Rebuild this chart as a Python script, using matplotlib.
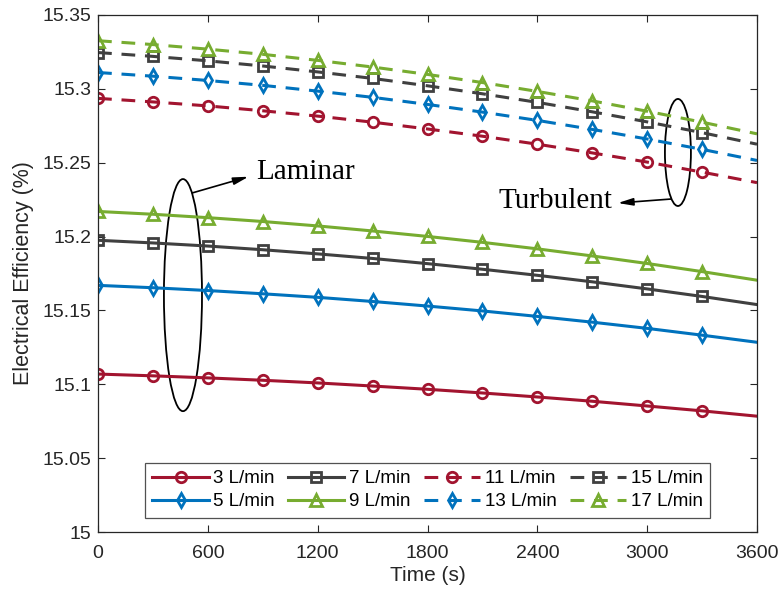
import matplotlib
matplotlib.use("Agg")
import matplotlib.pyplot as plt
from matplotlib.patches import Ellipse
from matplotlib.ticker import FormatStrFormatter

# Time samples (s)
time_s = [0, 300, 600, 900, 1200, 1500, 1800, 2100, 2400, 2700, 3000, 3300, 3600]

# Electrical efficiency (%) per coolant flow rate
eff_3 = [15.1070, 15.1058, 15.1044, 15.1028, 15.1010, 15.0989, 15.0967,
         15.0942, 15.0915, 15.0886, 15.0854, 15.0821, 15.0785]
eff_5 = [15.1670, 15.1654, 15.1635, 15.1613, 15.1589, 15.1561, 15.1530,
         15.1497, 15.1460, 15.1421, 15.1379, 15.1333, 15.1285]
eff_7 = [15.1975, 15.1957, 15.1936, 15.1911, 15.1883, 15.1852, 15.1817,
         15.1779, 15.1738, 15.1694, 15.1646, 15.1595, 15.1540]
eff_9 = [15.2170, 15.2151, 15.2128, 15.2102, 15.2072, 15.2038, 15.2001,
         15.1961, 15.1917, 15.1869, 15.1818, 15.1763, 15.1705]
eff_11 = [15.2935, 15.2911, 15.2884, 15.2851, 15.2815, 15.2774, 15.2728,
          15.2679, 15.2625, 15.2566, 15.2504, 15.2436, 15.2365]
eff_13 = [15.3110, 15.3085, 15.3056, 15.3023, 15.2984, 15.2942, 15.2894,
          15.2842, 15.2786, 15.2725, 15.2660, 15.2590, 15.2515]
eff_15 = [15.3245, 15.3219, 15.3189, 15.3154, 15.3114, 15.3070, 15.3020,
          15.2966, 15.2908, 15.2844, 15.2776, 15.2703, 15.2625]
eff_17 = [15.3325, 15.3299, 15.3268, 15.3233, 15.3192, 15.3147, 15.3097,
          15.3042, 15.2982, 15.2918, 15.2848, 15.2774, 15.2695]

labels = ["3 L/min", "5 L/min", "7 L/min", "9 L/min",
          "11 L/min", "13 L/min", "15 L/min", "17 L/min"]
x_ticks = [0, 600, 1200, 1800, 2400, 3000, 3600]
y_ticks = [15, 15.05, 15.1, 15.15, 15.2, 15.25, 15.3, 15.35]

RED = "#A2142F"
BLUE = "#0072BD"
GRAY = "#404040"
GREEN = "#77AC30"

series = [
    (eff_3, RED, "o", "-"),
    (eff_5, BLUE, "d", "-"),
    (eff_7, GRAY, "s", "-"),
    (eff_9, GREEN, "^", "-"),
    (eff_11, RED, "o", "--"),
    (eff_13, BLUE, "d", "--"),
    (eff_15, GRAY, "s", "--"),
    (eff_17, GREEN, "^", "--"),
]

plt.rcParams["font.family"] = ["Liberation Sans", "DejaVu Sans"]

fig = plt.figure(figsize=(7.78, 5.94), dpi=100)
ax = fig.add_axes([0.126, 0.104, 0.847, 0.871])

for (vals, color, marker, ls), lab in zip(series, labels):
    ms = 8.5 if marker == "^" else 7.5
    line, = ax.plot(time_s, vals, color=color, linestyle=ls, linewidth=2.2,
                    marker=marker, markersize=ms, markerfacecolor="none",
                    markeredgewidth=2.0, markevery=list(range(12)), label=lab)
    if ls == "--":
        line.set_dashes([4.5, 3.2])

ax.set_xlim(0, 3600)
ax.set_ylim(15, 15.35)
ax.set_xticks(x_ticks)
ax.set_yticks(y_ticks)
ax.yaxis.set_major_formatter(FormatStrFormatter("%g"))
ax.tick_params(direction="in", top=True, right=True, length=5, width=0.8,
               color="#262626", labelsize=14, labelcolor="#262626")
ax.tick_params(axis="x", pad=9)
ax.tick_params(axis="y", pad=5)
for sp in ax.spines.values():
    sp.set_color("#262626")
    sp.set_linewidth(0.9)

ax.set_xlabel("Time (s)", fontsize=15, color="#262626", labelpad=3)
ax.set_ylabel("Electrical Efficiency (%)", fontsize=15.5, color="#262626",
              labelpad=6)

leg = ax.legend(ncol=4, loc="lower center", bbox_to_anchor=(0.5, 0.01),
                fontsize=13.5, frameon=True, fancybox=False, handlelength=3.0,
                columnspacing=0.7, handletextpad=0.25, borderpad=0.4,
                labelspacing=0.3, edgecolor="#262626")
leg.get_frame().set_linewidth(0.9)

# Flow regime annotations
ax.add_patch(Ellipse((464, 15.1604), 208, 0.157, fill=False,
                     edgecolor="black", linewidth=1.3))
ax.add_patch(Ellipse((3168, 15.2569), 142, 0.0724, fill=False,
                     edgecolor="black", linewidth=1.3))

ax.annotate("", xy=(822, 15.2405), xytext=(514, 15.2295),
            arrowprops=dict(arrowstyle="-|>,head_length=0.9,head_width=0.22",
                            color="black", lw=1.2, shrinkA=0, shrinkB=0))
ax.text(862, 15.2440, "Laminar", fontsize=21, family="Liberation Serif",
        va="center", ha="left")

ax.annotate("", xy=(2840, 15.2227), xytext=(3130, 15.2254),
            arrowprops=dict(arrowstyle="-|>,head_length=0.9,head_width=0.22",
                            color="black", lw=1.2, shrinkA=0, shrinkB=0))
ax.text(2810, 15.2240, "Turbulent", fontsize=21, family="Liberation Serif",
        va="center", ha="right")

fig.savefig("out.png", dpi=100)
